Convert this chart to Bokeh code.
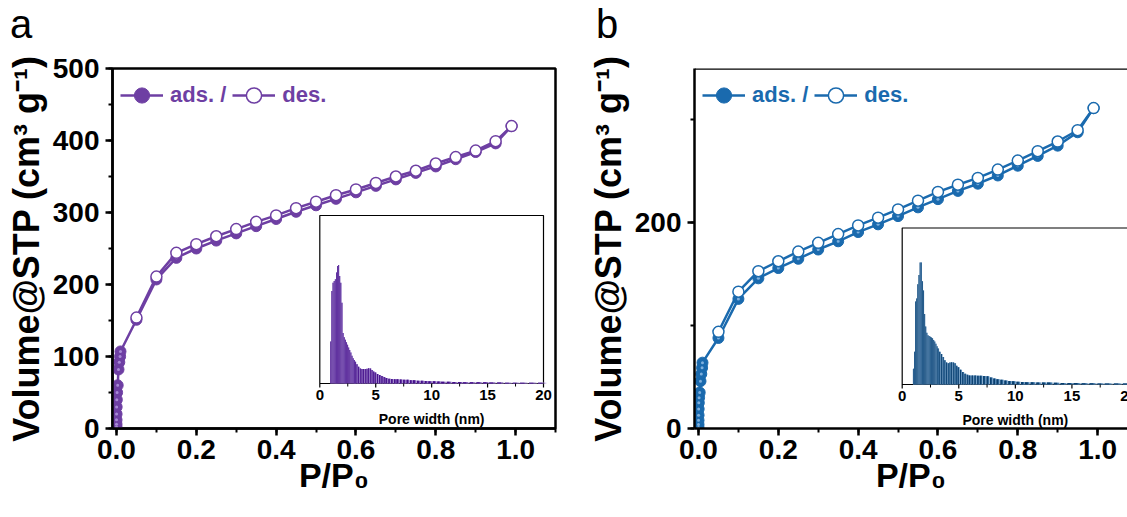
import numpy as np
from bokeh.plotting import figure
from bokeh.models import (Range1d, SingleIntervalTicker, PrintfTickFormatter,
                          Legend, LegendItem, Span, Div)
from bokeh.layouts import row, column
from bokeh.embed import file_html
from bokeh.resources import INLINE
from bokeh.core.properties import value

# ---------------- isotherm data (P/P0, cm3 g-1) ----------------
p_low = [0.00001, 0.00003, 0.00008, 0.0002, 0.0004, 0.0008, 0.0015, 0.003, 0.005, 0.007, 0.009, 0.01]
p_high = [0.05, 0.10, 0.15, 0.20, 0.25, 0.30, 0.35, 0.40, 0.45, 0.50,
          0.55, 0.60, 0.65, 0.70, 0.75, 0.80, 0.85, 0.90, 0.95, 0.99]

a_ads_low = [2, 6, 12, 20, 30, 40, 50, 60, 82, 92, 100, 107]
a_ads_high = [151, 207, 237, 250, 261, 271, 281, 291, 301, 310,
              319, 328, 337, 346, 355, 364, 374, 384, 396, 420]
a_des = [154, 211, 244, 256, 267, 277, 287, 296, 306, 315,
         324, 332, 341, 350, 358, 368, 377, 386, 399, 420]

b_ads_low = [1, 4, 8, 13, 19, 25, 30, 35, 46, 53, 59, 64]
b_ads_high = [88, 126, 146, 156, 165, 174, 182, 191, 198.5, 206.5,
              215, 223, 231, 238, 246, 255.5, 265, 275, 288, 311.5]
b_des = [94, 133, 153, 162.6, 172, 180.5, 189, 197.4, 205, 213,
         221.5, 230, 237, 243.6, 251.7, 260.5, 269.6, 279, 290, 311.5]

# ---------------- pore size distribution (inset, arbitrary units) ----------------
pore_width = [1.0, 1.1, 1.2, 1.3, 1.4, 1.5, 1.6, 1.7, 1.8, 1.9, 2.0, 2.1, 2.2,
              2.3, 2.4, 2.5, 2.6, 2.7, 2.8, 2.9, 3.0, 3.1, 3.2,
              3.35, 3.5, 3.65, 3.8, 3.95, 4.1, 4.25, 4.4, 4.55, 4.7, 4.85, 5.0,
              5.2, 5.4, 5.6, 5.8, 6.0, 6.25, 6.5, 6.75, 7.0,
              7.3, 7.6, 7.9, 8.2, 8.5, 8.85, 9.2, 9.55, 9.9,
              10.3, 10.7, 11.1, 11.6, 12.1, 12.6, 13.1, 13.7, 14.3, 14.9, 15.5,
              16.2, 16.9, 17.6, 18.3, 19.1, 19.9]
a_psd = [0.25, 0.55, 0.60, 0.61, 0.62, 0.66, 0.70, 0.705, 0.64, 0.60, 0.48, 0.30, 0.275,
         0.26, 0.245, 0.23, 0.215, 0.20, 0.185, 0.165, 0.15, 0.14, 0.13,
         0.115, 0.10, 0.09, 0.087, 0.086, 0.086, 0.088, 0.091, 0.089, 0.08, 0.072, 0.065,
         0.057, 0.05, 0.044, 0.038, 0.033, 0.029, 0.027, 0.026, 0.025,
         0.024, 0.023, 0.022, 0.02, 0.019, 0.017, 0.016, 0.015, 0.014,
         0.013, 0.012, 0.011, 0.01, 0.009, 0.009, 0.008, 0.008, 0.007, 0.007, 0.006,
         0.006, 0.005, 0.005, 0.005, 0.004, 0.004]
b_psd = [0.10, 0.21, 0.53, 0.55, 0.64, 0.70, 0.78, 0.78, 0.66, 0.60, 0.45, 0.37, 0.33,
         0.315, 0.31, 0.305, 0.30, 0.295, 0.285, 0.275, 0.26, 0.245, 0.23,
         0.21, 0.195, 0.175, 0.155, 0.14, 0.135, 0.14, 0.142, 0.14, 0.135, 0.12, 0.11,
         0.095, 0.08, 0.068, 0.062, 0.058, 0.057, 0.058, 0.056, 0.056,
         0.055, 0.053, 0.045, 0.038, 0.034, 0.03, 0.025, 0.022, 0.02,
         0.018, 0.016, 0.015, 0.014, 0.013, 0.012, 0.012, 0.011, 0.01, 0.01, 0.009,
         0.008, 0.008, 0.007, 0.007, 0.006, 0.006]
inset_ticks = [0, 5, 10, 15, 20]
panel_tags = ["a", "b"]

FONT = "Liberation Sans"
DIV_H = 40                 # strip holding the panel letters
H = 517 - DIV_H            # figure height
B_TOP, B_BOT = 68 - DIV_H, 89
PX_PER_UNIT = 443 / 1.11   # main x scale shared by both panels


def style_axes(p):
    for ax in (p.xaxis[0], p.yaxis[0]):
        ax.axis_line_width = 2.5
        ax.axis_line_color = "black"
        ax.major_tick_line_width = 2.5
        ax.minor_tick_line_width = 2
        ax.major_tick_in = 0
        ax.major_tick_out = 7
        ax.minor_tick_in = 0
        ax.minor_tick_out = 4
        ax.major_label_text_font = FONT
        ax.major_label_text_font_style = "bold"
        ax.major_label_text_font_size = "28px"
        ax.major_label_text_color = "black"
        ax.axis_label_text_font = FONT
        ax.axis_label_text_font_style = "bold"
        ax.axis_label_text_color = "black"
    p.xaxis[0].axis_label_text_font_size = "34px"
    p.yaxis[0].axis_label_text_font_size = "36px"
    p.xaxis[0].major_label_standoff = 4
    p.xaxis[0].axis_label_standoff = -6
    p.yaxis[0].major_label_standoff = 6
    p.yaxis[0].axis_label_standoff = 3


def make_panel(ads_low, ads_high, des, psd, main, hilite, dark, mid, light,
               fig_w, b_left, b_right, y_end, y_step, ix0, ix1, iy0, iy1, box):
    # iy0 / iy1 are given in window pixels
    iy0 -= DIV_H
    iy1 -= DIV_H
    fl, fr, ft, fb = b_left, fig_w - b_right, B_TOP, H - B_BOT
    x_start = -0.01
    x_end = x_start + (fr - fl) / PX_PER_UNIT
    p = figure(width=fig_w, height=H, x_range=Range1d(x_start, x_end),
               y_range=Range1d(0, y_end), output_backend="svg", toolbar_location=None,
               min_border_left=b_left, min_border_right=b_right,
               min_border_top=B_TOP, min_border_bottom=B_BOT)
    p.grid.visible = False
    p.background_fill_color = "white"
    p.border_fill_color = "white"
    if box:
        p.outline_line_color = "black"
        p.outline_line_width = 2.5
    else:
        p.outline_line_color = None
        p.add_layout(Span(location=y_end, dimension="width", line_color="black", line_width=2.5))

    # ---- inset on extra ranges ----
    xi0, xi1 = inset_ticks[0], inset_ticks[-1]
    sx = (ix1 - ix0) / (xi1 - xi0)
    sy = (iy0 - iy1) / 1.0
    p.extra_x_ranges = {"ix": Range1d(xi0 - (ix0 - fl) / sx, xi1 + (fr - ix1) / sx)}
    p.extra_y_ranges = {"iy": Range1d(0 - (fb - iy0) / sy, 1 + (iy1 - ft) / sy)}
    kw = dict(x_range_name="ix", y_range_name="iy")
    p.quad(left=[xi0], right=[xi1], bottom=[0], top=[1], fill_color="white",
           line_color="black", line_width=1.2, **kw)
    pw = np.array(pore_width)
    h = np.array(psd)
    w = np.diff(np.append(pw, 2 * pw[-1] - pw[-2]))
    left = pw - w / 2
    p.quad(left=left, right=left + 0.95 * w, bottom=0, top=h, fill_color=light,
           line_color=None, **kw)
    p.quad(left=left, right=left + 0.75 * w, bottom=0, top=h, fill_color=mid,
           line_color=None, **kw)
    p.quad(left=left, right=left + 0.5 * w, bottom=0, top=h, fill_color=dark,
           line_color=None, **kw)
    t = np.array(inset_ticks, dtype=float)
    minor = (t[:-1] + t[1:]) / 2
    p.segment(x0=t, y0=0, x1=t, y1=-4 / sy, line_color="black", line_width=1.2, **kw)
    p.segment(x0=minor, y0=0, x1=minor, y1=-3 / sy, line_color="black", line_width=1, **kw)
    p.text(x=t, y=[0] * len(t), text=[str(v) for v in inset_ticks],
           text_font=value(FONT), text_font_style="bold", text_font_size="15px",
           text_align="center", text_baseline="top", y_offset=6, text_color="black", **kw)
    p.text(x=[(xi0 + xi1) / 2], y=[0], text=["Pore width (nm)"],
           text_font=value(FONT), text_font_style="bold", text_font_size="14px",
           text_align="center", text_baseline="top", y_offset=27, text_color="black", **kw)

    # ---- isotherm ----
    ax_ = list(p_low) + list(p_high)
    ay_ = list(ads_low) + list(ads_high)
    l1 = p.line(ax_, ay_, line_color=main, line_width=2.5)
    s1 = p.scatter(ax_, ay_, size=11, fill_color=main, line_color=main, line_width=1)
    p.scatter(ax_, ay_, size=3, fill_color=hilite, line_color=None)
    l2 = p.line(p_high, des, line_color=main, line_width=2.5)
    s2 = p.scatter(p_high, des, size=11, fill_color="white", line_color=main, line_width=1.5)

    leg = Legend(items=[LegendItem(label=value("ads. /"), renderers=[l1, s1]),
                        LegendItem(label=value("des."), renderers=[l2, s2])],
                 orientation="horizontal", location="top_left",
                 glyph_width=43, glyph_height=38,
                 label_text_font=FONT, label_text_font_style="bold",
                 label_text_font_size="22px", label_text_color=main,
                 border_line_color=None, background_fill_alpha=0,
                 spacing=6, label_standoff=7, padding=0, margin=8)
    p.add_layout(leg)

    p.xaxis.ticker = SingleIntervalTicker(interval=0.2, num_minor_ticks=2)
    p.xaxis.formatter = PrintfTickFormatter(format="%.1f")
    p.yaxis.ticker = SingleIntervalTicker(interval=y_step, num_minor_ticks=2)
    p.xaxis.axis_label = "P/P\u2080"
    p.yaxis.axis_label = "Volume@STP (cm\u00b3 g\u207b\u00b9)"
    style_axes(p)
    return p


def tag_div(text, w, pad_left):
    return Div(text=text, width=w, height=DIV_H, margin=0,
               styles={"font-family": FONT, "font-size": "40px", "line-height": "48px",
                       "color": "black", "padding-left": f"{pad_left}px",
                       "box-sizing": "border-box", "overflow": "visible"})


pa = make_panel(a_ads_low, a_ads_high, a_des, a_psd,
                "#6E3FA3", "#A88AD6", "#46108A", "#7A55B5", "#B8A3DC",
                575, 112, 20, 500, 100, 319.3, 543, 383, 215, True)
pb = make_panel(b_ads_low, b_ads_high, b_des, b_psd,
                "#1A6AAE", "#7FB0DD", "#0A3F6E", "#3F79AC", "#9DBBD8",
                552, 119, 0, 350, 200, 901.7 - 575, 1128 - 575, 384, 227.5, False)

layout = column(row(tag_div(panel_tags[0], 575, 10), tag_div(panel_tags[1], 552, 21),
                    spacing=0),
                row(pa, pb, spacing=0), spacing=0)
open("out.html", "w").write(file_html(layout, INLINE))
